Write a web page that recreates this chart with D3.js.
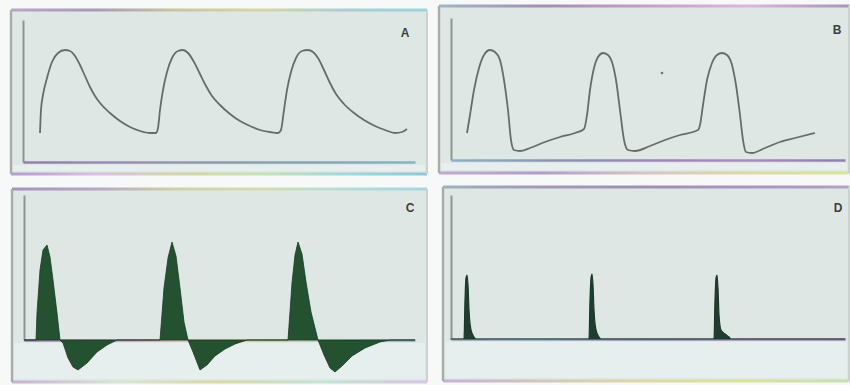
<!DOCTYPE html>
<html>
<head>
<meta charset="utf-8">
<script src="https://cdn.jsdelivr.net/npm/d3@7/dist/d3.min.js"></script>
<style>
  html, body { margin: 0; padding: 0; background: #f7faf9; }
  svg { display: block; }
</style>
</head>
<body>
<svg id="chart" width="850" height="385"></svg>
<script>
// ---------- DATA (time in s, amplitude in arbitrary units) ----------
const panelLabels = ["A", "B", "C", "D"];

// Panel A: smooth pressure-like waveform
const seriesA = [
  [0.17,29],[0.18,52],[0.20,67],[0.24,84],[0.29,100],[0.35,109],[0.42,112],[0.47,111],
  [0.52,106],[0.57,97],[0.62,86],[0.67,75],[0.72,66],[0.77,59],[0.87,49],[0.97,41],
  [1.07,35],[1.17,31],[1.27,29],[1.33,29],[1.35,34],[1.37,52],[1.40,72],[1.44,90],
  [1.49,104],[1.55,111],[1.60,112],[1.65,109],[1.71,100],[1.77,88],[1.83,76],[1.89,66],
  [1.97,57],[2.07,48],[2.17,41],[2.27,36],[2.37,32],[2.47,30],[2.55,29],[2.58,32],
  [2.61,52],[2.64,72],[2.68,90],[2.73,104],[2.79,111],[2.85,112],[2.90,110],[2.95,104],
  [3.01,92],[3.07,79],[3.13,68],[3.21,58],[3.31,49],[3.41,42],[3.52,36],[3.62,32],
  [3.72,29],[3.79,30],[3.84,33]
];

// Panel B: square-ish waveform with sharp fall
const seriesB = [
  [0.16,27],[0.19,45],[0.23,70],[0.28,92],[0.33,105],[0.39,110],[0.44,108],[0.49,100],
  [0.53,80],[0.57,50],[0.60,20],[0.63,10],[0.69,9],[0.79,12],[0.94,18],[1.09,23],
  [1.24,27],[1.33,31],[1.36,45],[1.39,70],[1.43,92],[1.47,103],[1.52,107],[1.57,105],
  [1.61,98],[1.65,80],[1.69,50],[1.73,20],[1.77,10],[1.84,9],[1.99,14],[2.14,20],
  [2.29,25],[2.47,30],[2.49,35],[2.52,55],[2.56,80],[2.61,97],[2.66,105],[2.71,107],
  [2.76,105],[2.81,95],[2.85,75],[2.89,45],[2.92,20],[2.95,8],[3.01,7],[3.14,12],
  [3.29,18],[3.44,22],[3.64,27]
];
const artifactB = [[2.11,87]];

// Panel C: filled biphasic flow-like waveform
const seriesC = [
  [0.00,0],[0.12,0],[0.13,27],[0.16,70],[0.19,90],[0.23,95],[0.26,83],[0.29,60],[0.33,27],
  [0.36,0],[0.39,-3],[0.44,-18],[0.49,-27],[0.54,-30],[0.63,-23],[0.73,-12],[0.83,-5],
  [0.93,0],[1.36,0],[1.40,52],[1.44,82],[1.48,98],[1.52,84],[1.56,52],[1.60,18],[1.64,0],
  [1.69,-12],[1.76,-30],[1.83,-25],[1.91,-16],[2.01,-9],[2.11,-4],[2.23,0],[2.64,0],
  [2.68,57],[2.71,85],[2.74,98],[2.78,86],[2.82,58],[2.87,28],[2.94,0],[3.00,-15],
  [3.06,-28],[3.11,-32],[3.18,-26],[3.28,-16],[3.41,-8],[3.56,-2],[3.66,0],[3.91,0]
];

// Panel D: narrow spikes
const seriesD = [
  [0.00,0],[0.13,0],[0.14,39],[0.15,61],[0.16,64],[0.17,54],[0.18,29],[0.20,9],[0.23,2],[0.25,0],
  [1.38,0],[1.39,39],[1.40,61],[1.41,65],[1.42,54],[1.43,29],[1.45,9],[1.48,2],[1.50,0],
  [2.63,0],[2.64,39],[2.65,61],[2.66,64],[2.67,51],[2.68,24],[2.70,9],[2.74,5],[2.78,2],[2.80,0],
  [3.94,0]
];

// ---------- LAYOUT ----------
const layout = {
  A: {outer:[11,10,427,174], x0:23, x1:415, top:20, base:162, label:[405,37], kind:"line", data:seriesA},
  B: {outer:[439,6,849,173], x0:451, x1:845, top:18, base:160, label:[837,34], kind:"line", data:seriesB, extra:artifactB},
  C: {outer:[12,189,427,382], x0:24, x1:415, top:195, base:340, label:[410,212], kind:"area", data:seriesC},
  D: {outer:[443,187,849,381], x0:451, x1:845, top:195, base:339, label:[838,212], kind:"area", data:seriesD}
};

const tints = {
  top:  {A:["#b9a4c8","#a79bb6","#c9c6a2","#d4d7a8","#a9cfd2","#9fd4da"],
         B:["#9fb7c6","#a48db9","#c69ccb","#ddb4e0","#a994bd"],
         C:["#a593b8","#b7a6c4","#cfd2a6","#d6dcae","#b6dcd6","#a6d6dc"],
         D:["#9fb0c0","#a497b8","#a08fb5","#ac93c0","#b4a0c8"]},
  bot:  {A:["#b39bd0","#d8c0e4","#d3d7a6","#c7e3b5","#9ed9dd","#8fc8d4"],
         B:["#c2a9d4","#b39bc9","#d9c3c3","#dddaa5","#d8e4a0"],
         C:["#c7b0d8","#d7e6d2","#d9dba5","#c4e5d6","#d8c4e2"],
         D:["#c7b0d8","#d0c8b8","#dddaa5","#d8e4a0","#c8e0b0"]},
  base: {A:["#8f7fb0","#9a8fb5","#8c9cab","#83a6b0","#87b8c2"],
         B:["#8fb0c4","#8c94b2","#9c86b4","#a98ac0","#8f7fb0"],
         C:["#8f7fb0","#c49ab8","#d2c59a","#b4c8b4","#8fa6c0"],
         D:["#8fa2b8","#8aa6c4","#8f86b0","#a08ac0","#9a86b8"]}
};

const svg = d3.select("#chart");
const defs = svg.append("defs");

function grad(id, x1, x2, stops) {
  const g = defs.append("linearGradient").attr("id", id)
    .attr("gradientUnits","userSpaceOnUse")
    .attr("x1",x1).attr("x2",x2).attr("y1",0).attr("y2",0);
  stops.forEach((c,i) => g.append("stop").attr("offset", (i/(stops.length-1)*100)+"%").attr("stop-color", c));
  return "url(#"+id+")";
}

svg.append("rect").attr("width",850).attr("height",385).attr("fill","#f6f9f8");

panelLabels.forEach(key => {
  const p = layout[key];
  const [ox0, oy0, ox1, oy1] = p.outer;
  const g = svg.append("g").attr("class","panel panel-"+key);

  const gTop = grad("top"+key, ox0, ox1, tints.top[key]);
  const gBot = grad("bot"+key, ox0, ox1, tints.bot[key]);
  const gBase = grad("base"+key, p.x0, p.x1, tints.base[key]);

  g.append("rect").attr("x",ox0).attr("y",oy0).attr("width",ox1-ox0).attr("height",oy1-oy0)
    .attr("fill","#dfe7e4");
  g.append("rect").attr("x",ox0+2).attr("y",p.base+3).attr("width",ox1-ox0-4).attr("height",Math.max(0,oy1-p.base-6))
    .attr("fill","#e6eeee");
  g.append("rect").attr("x",ox0).attr("y",oy0-1.5).attr("width",ox1-ox0).attr("height",3).attr("fill",gTop);
  g.append("rect").attr("x",ox0).attr("y",oy1-1.5).attr("width",ox1-ox0).attr("height",3).attr("fill",gBot);
  g.append("rect").attr("x",ox0-1.2).attr("y",oy0).attr("width",2.4).attr("height",oy1-oy0).attr("fill","#a6adab");
  g.append("rect").attr("x",ox1-1).attr("y",oy0).attr("width",2).attr("height",oy1-oy0).attr("fill","#cad3d0");

  const x = d3.scaleLinear().domain([0, (p.x1 - p.x0) / 100]).range([p.x0, p.x1]);
  const y = d3.scaleLinear().domain([0, p.base - p.top]).range([p.base, p.top]);

  const yAxis = g.append("g").attr("transform", `translate(${p.x0},0)`)
    .call(d3.axisLeft(y).ticks(0).tickSizeOuter(0));
  yAxis.select(".domain").attr("stroke","#8e9593").attr("stroke-width",2);

  const xAxis = g.append("g").attr("transform", `translate(0,${p.base})`)
    .call(d3.axisBottom(x).ticks(0).tickSizeOuter(0));
  xAxis.select(".domain").attr("stroke",gBase).attr("stroke-width",2.5);

  if (p.kind === "line") {
    const line = d3.line().x(d => x(d[0])).y(d => y(d[1])).curve(d3.curveMonotoneX);
    g.append("path").datum(p.data).attr("d", line)
      .attr("fill","none").attr("stroke","#55605c").attr("stroke-width",1.8)
      .attr("stroke-linejoin","round").attr("opacity",0.9);
    if (p.extra) {
      g.selectAll("circle.art").data(p.extra).join("circle").attr("class","art")
        .attr("cx", d => x(d[0])).attr("cy", d => y(d[1])).attr("r",1.3).attr("fill","#6c7571");
    }
  } else {
    const area = d3.area().x(d => x(d[0])).y0(y(0)).y1(d => y(d[1]))
      .curve(key === "C" ? d3.curveLinear : d3.curveMonotoneX);
    const fill = key === "C" ? "#24512f" : "#1f3d31";
    g.append("path").datum(p.data).attr("d", area)
      .attr("fill", fill).attr("stroke", "#1a3a24").attr("stroke-width", key === "C" ? 0.8 : 1.2)
      .attr("stroke-linejoin","round");
  }

  g.append("text").attr("x", p.label[0]).attr("y", p.label[1])
    .attr("text-anchor","middle")
    .attr("font-family","'Liberation Sans', Arial, sans-serif")
    .attr("font-weight","bold").attr("font-size",12).attr("fill","#3a3f3d")
    .text(key);
});
</script>
</body>
</html>
